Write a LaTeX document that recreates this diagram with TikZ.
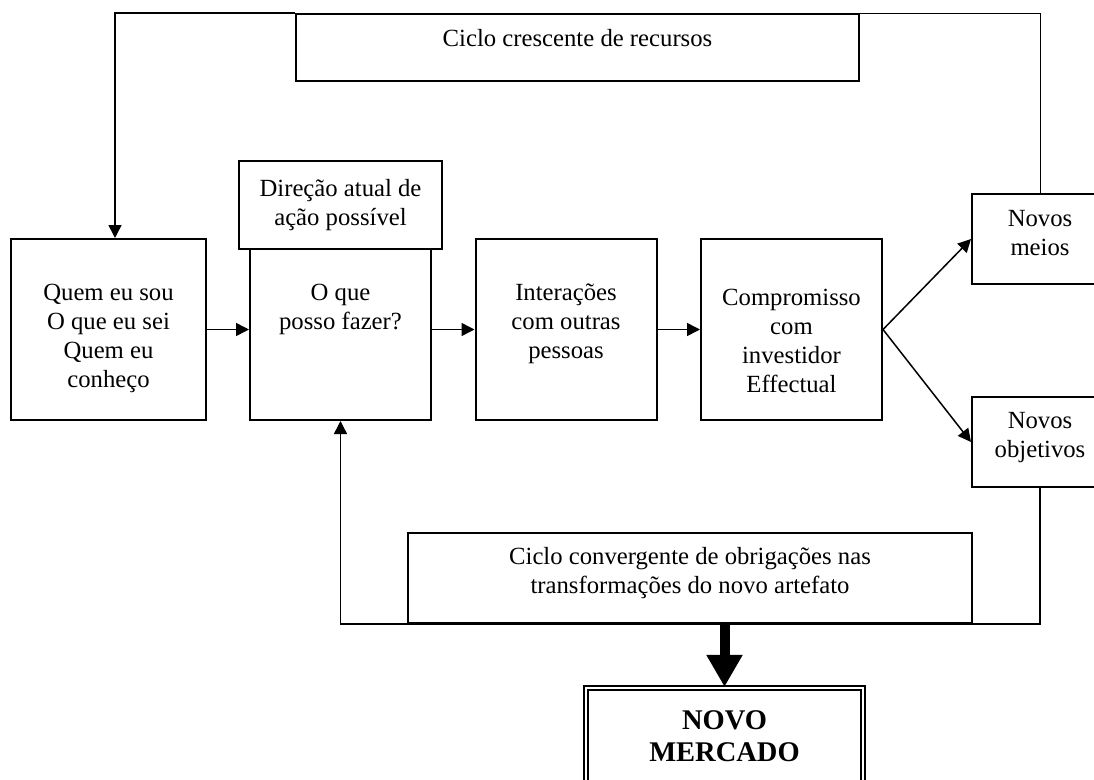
\documentclass[tikz,border=0pt]{standalone}
\usepackage{fontspec}
\setmainfont{Liberation Serif}
\usetikzlibrary{arrows.meta}

\begin{document}
\begin{tikzpicture}[x=1pt, y=-1pt, >={Triangle[length=13pt,width=13pt]},
  box/.style={draw, line width=2pt, align=center, inner sep=0pt, font=\fontsize{24.7}{29}\selectfont},
  link/.style={line width=1.5pt}]
\useasboundingbox (0,0) rectangle (1094,779);
\clip (0,0) rectangle (1094,779);
% caixas
\node[box, minimum width=563pt, minimum height=67pt] (crescente) at (577.5,47.5) {Ciclo crescente de recursos\\[-9pt]~};
\node[box, minimum width=195pt, minimum height=181pt] (quem) at (108.5,329.5) {~\\[6pt]Quem eu sou\\O que eu sei\\Quem eu\\conheço};
\node[box, minimum width=181pt, minimum height=171pt] (oque) at (340.5,334.5) {O que\\posso fazer?\\[26pt]~};
\node[box, minimum width=203pt, minimum height=88pt] (direcao) at (340.5,205) {Direção atual de\\ação possível};
\node[box, minimum width=181pt, minimum height=181pt] (inter) at (566,329.5) {Interações\\com outras\\pessoas\\[-13pt]~};
\node[box, minimum width=181pt, minimum height=181pt] (compr) at (791.5,329.5) {~\\[11pt]Compromisso\\com\\investidor\\Effectual};
\node[box, minimum width=136pt, minimum height=90pt] (meios) at (1040,239) {Novos\\meios\\[-17pt]~};
\node[box, minimum width=136pt, minimum height=90pt] (objet) at (1040,442) {Novos\\objetivos\\[-14pt]~};
\node[box, minimum width=564pt, minimum height=90pt] (converg) at (690,578) {Ciclo convergente de obrigações nas\\transformações do novo artefato\\[-14pt]~};
\node[box, double, line width=2.2pt, double distance=1.2pt, minimum width=277pt, minimum height=96pt, font=\fontsize{28.5}{32}\selectfont\bfseries] (mercado) at (724.5,736) {NOVO\\MERCADO};
% ligacoes
\coordinate (qin) at ([xshift=6.5pt]quem.north);
\draw[line width=1pt] (meios.north) |- (crescente.north east);
\draw[link,->] (crescente.north west) -| (qin);
\draw[link,->] (quem.east) -- (quem.east -| oque.west);
\draw[link,->] (inter.west -| oque.east) -- (inter.west);
\draw[link,->] (inter.east) -- (compr.west);
\draw[link,->] (compr.east) -- (meios.west);
\draw[link,->] (compr.east) -- (objet.west);
\draw[link,->] (objet.south) |- (oque.south |- converg.south) -- (oque.south);
\draw[line width=10pt, -{Triangle[length=32pt,width=34pt]}] (mercado.north |- converg.south) -- (mercado.north);
\end{tikzpicture}
\end{document}
